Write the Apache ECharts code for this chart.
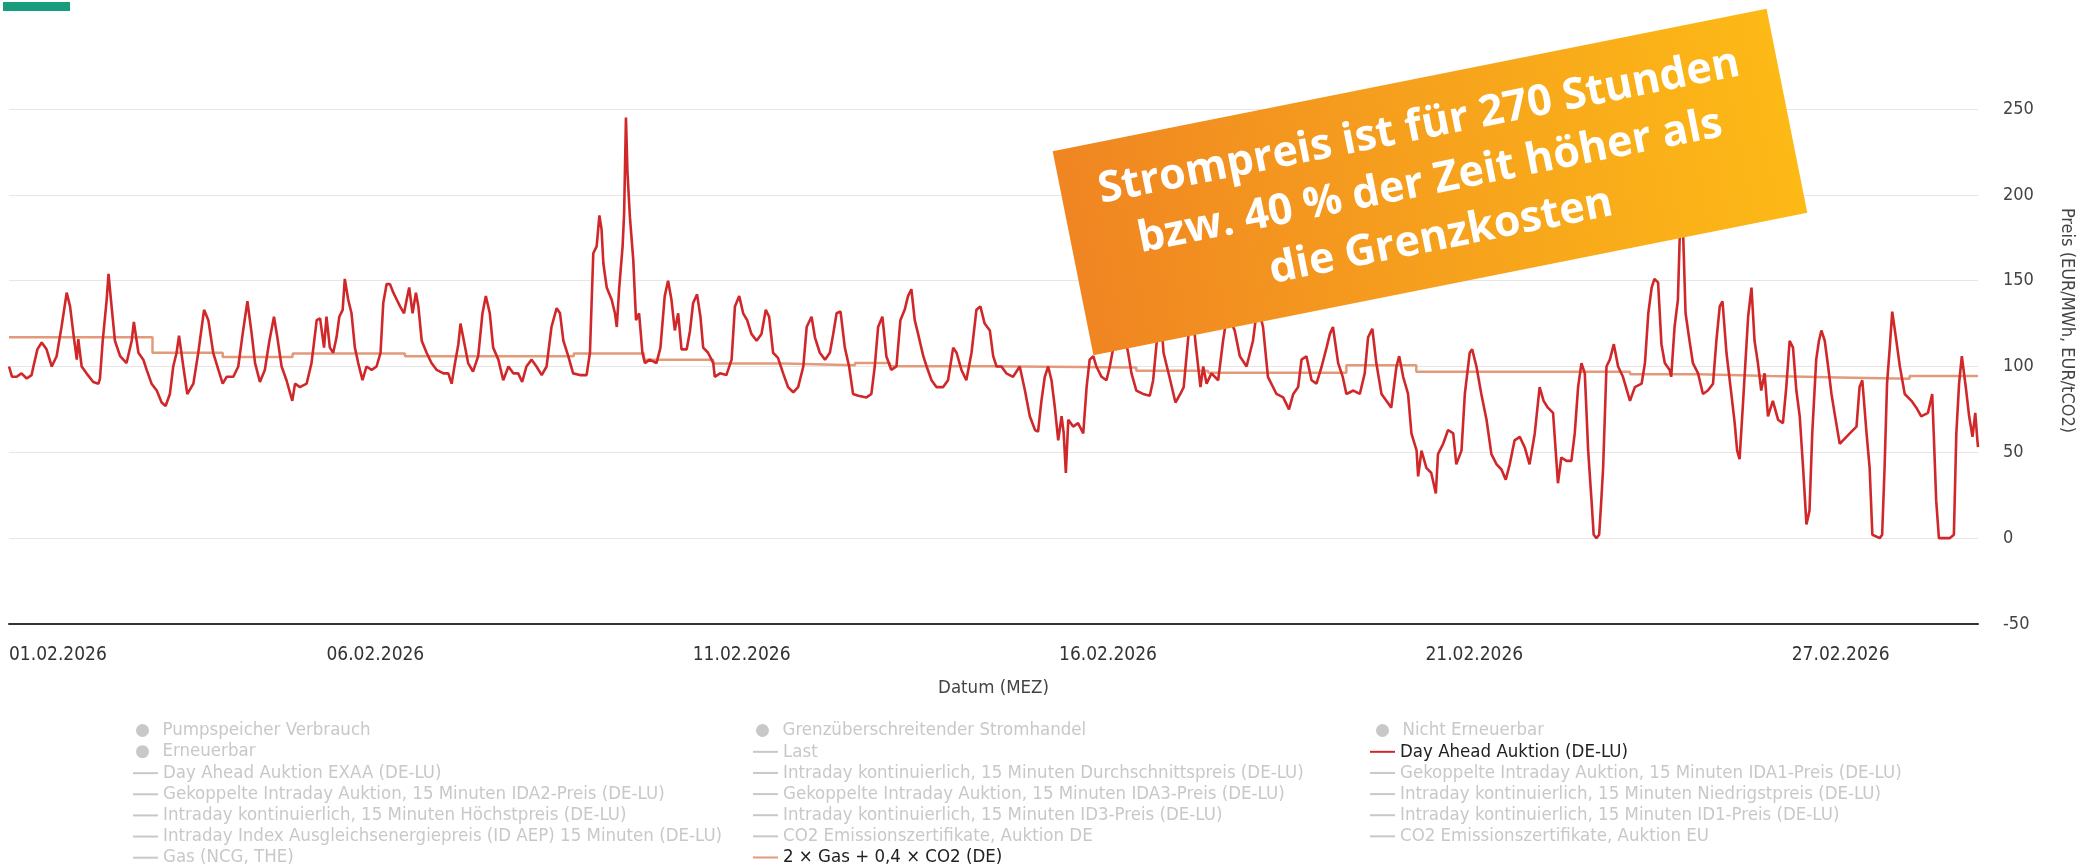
<!DOCTYPE html>
<html>
<head>
<meta charset="utf-8">
<script src="https://cdn.jsdelivr.net/npm/echarts@6/dist/echarts.min.js"></script>
<style>
  html, body { margin: 0; padding: 0; background: #fff; }
  #chart { width: 2091px; height: 866px; }
</style>
</head>
<body>
<div id="chart"></div>
<script>
// Day Ahead Auktion (DE-LU), Stunden ab 01.02.2026 00:00, EUR/MWh
const dayAheadHours = [
  0, 1, 2.5, 4.1, 5.8, 7.4, 8, 9.3, 10.7, 12.3, 14, 15.6, 17.2, 18.9, 20, 21.1, 22.2, 22.7, 23.8,
  25.4, 27.6, 29.3, 29.8, 30.7, 32, 32.6, 33.6, 34.7, 36.4, 38.5, 40.2, 40.9, 42.4, 44, 45.1, 46.7,
  48.4, 50, 51.3, 52.7, 53.8, 54.9, 55.7, 57.1, 58.4, 60.4, 62, 63.9, 65.3, 66.9, 68.6, 70, 71.3,
  73.5, 75.1, 76.7, 78.1, 79.5, 80.6, 82.2, 83.8, 85.3, 86.8, 87.9, 89.3, 90.9, 92.8, 93.7, 95.3,
  97.5, 99.1, 100.8, 101.9, 103.2, 104, 105.1, 106.2, 107.3, 108.2, 109.3, 110, 111.1, 112.2, 113.3,
  114.4, 115.8, 117.1, 118.8, 120.4, 121.7, 122.6, 123.7, 124.8, 125.9, 127, 128.1, 129.4, 130.5,
  131.1, 132.2, 133.3, 134.1, 135.2, 136.8, 138.4, 140.1, 142.3, 143.9, 145, 146.1, 147.2, 147.9,
  149, 150.4, 152, 153.7, 155.1, 156.2, 157.5, 158.6, 160.3, 161.9, 163.6, 165.2, 166.8, 168.1,
  169.5, 171.2, 172.8, 174.5, 176.1, 177.7, 179.4, 180.5, 181.6, 183.2, 184.8, 187, 189.2, 190.3,
  191.4, 192.5, 193.4, 194.1, 194.7, 195.8, 197.4, 198.5, 199.1, 199.9, 201, 201.5, 202.1, 202.6,
  203.4, 204.5, 205.4, 206.4, 207.5, 208.3, 209.9, 212.1, 213.4, 214.8, 215.9, 217, 218.1, 219.2,
  220.3, 222, 223.1, 224.1, 225.4, 226.5, 227.4, 229, 230.7, 231.2, 232.9, 235, 236.7, 237.8, 239.2,
  240.5, 241.8, 243.2, 244.9, 246.5, 247.9, 249, 250.3, 251.9, 253.6, 255.2, 256.9, 258.5, 260.2,
  261.3, 262.9, 264, 265.6, 267.3, 268.9, 270, 271.1, 272.4, 273.8, 275.2, 276.5, 278.2, 280.9,
  282.5, 283.6, 284.7, 286.1, 287.4, 289, 290.7, 292, 293.4, 294.5, 295.6, 296.7, 297.8, 299.5,
  300.6, 302.2, 303.8, 306, 307.6, 309.3, 310.4, 312, 313.6, 315.3, 316.9, 318.2, 319.6, 321.3,
  322.4, 323.5, 325.1, 326.7, 328.9, 331.1, 332.8, 334.4, 336.1, 337.1, 338.2, 339.3, 340.4, 341.5,
  342.6, 343.7, 344.8, 345.5, 346.2, 347, 348.6, 350.2, 351.9, 353, 354, 355.2, 356.2, 357.9, 359.5,
  360.6, 362.5, 364, 365.8, 366.6, 367.7, 369.3, 371.5, 373.7, 374.8, 375.9, 377, 378.2, 380.4,
  382.1, 383.7, 384.8, 386.4, 387.3, 388.6, 390.3, 391.2, 392.3, 393.9, 396.1, 397.7, 399, 400.3,
  401.5, 403.2, 405.4, 407.5, 409, 410.8, 412.4, 415.2, 417.4, 419.3, 420.7, 422.3, 423.4, 425,
  426.7, 428.3, 430, 431.6, 432.7, 433.7, 435.4, 436.9, 438.1, 440.4, 442.5, 444.1, 445.2, 446.6,
  447.9, 449.6, 451.2, 452.8, 454.5, 455.4, 456.7, 458.3, 459.4, 461.1, 461.6, 462.7, 464.3, 465.9,
  467.4, 468.1, 469.8, 471.4, 473.1, 474.1, 475.8, 476.9, 478.5, 479.3, 480.7, 482.3, 484, 485.6,
  487.3, 488.9, 490.3, 491.6, 493.2, 494.9, 496.5, 498.1, 499.8, 501.4, 502.7, 504.1, 505.8, 507.4,
  508.5, 510.2, 511.8, 512.9, 514, 515.1, 516.2, 517.3, 518.4, 519.1, 520, 520.9, 521.6, 522.2,
  523.3, 524.4, 525.7, 527.1, 528.7, 531, 532.6, 534.8, 535.9, 537, 538.1, 539, 540.2, 541.3, 542.4,
  544, 544.5, 545.6, 546.7, 547.3, 547.8, 548.4, 549.2, 550.5, 551.6, 553.3, 554.9, 556.5, 558.2,
  559.3, 560.4, 561.3, 562.6, 564.2, 565.3, 566.1, 566.9, 568, 569.7, 570.8, 571.8, 572.9, 574,
  575.1, 576.2, 577.8, 579.5, 581.1, 582.2, 583.3, 584.4, 585.5, 586.6, 587.7, 588.8, 589.8, 590.7,
  592, 592.9, 593.7, 594.8, 595.9, 597, 598, 599.7, 600.8, 603, 605.2, 606.2, 607.1, 608.4, 609.5,
  610.4, 612.8, 613.6, 614.4, 615.2, 616.1, 616.9, 618.1, 619.4, 621, 623.2, 624.8, 626.4, 628.6,
  630, 630.5, 631.3, 632.2, 635.7, 637.1, 637.9, 638.8, 639.7, 641, 642.1, 643.2, 644.1, 644.8, 645
];
const dayAheadPrices = [
  100, 94, 94, 96, 93, 95, 100, 110, 114, 110, 100, 106, 123, 143, 135, 119, 104, 116, 100,
  96, 91, 90, 93, 115, 139, 154, 135, 115, 106, 102, 115, 126, 108, 104, 98, 90,
  86, 79, 77, 84, 100, 108, 118, 100, 84, 90, 108, 133, 127, 108, 98, 90, 94,
  94, 100, 121, 138, 119, 102, 91, 98, 115, 129, 117, 100, 92, 80, 90, 88,
  90, 102, 127, 128, 111, 129, 111, 108, 117, 129, 133, 151, 139, 131, 111,
  102, 92, 100, 98, 100, 108, 137, 148, 148, 143, 139, 135, 131, 141,
  146, 131, 143, 135, 115, 108, 102, 98, 96, 96, 90, 102, 113, 125,
  115, 102, 97, 106, 131, 141, 131, 111, 104, 92, 100, 96, 96, 91,
  100, 104, 100, 95, 100, 123, 134, 131, 115, 106, 96, 95, 95, 108,
  166, 170, 188, 180, 160, 146, 139, 131, 123, 146, 170, 189, 245, 213,
  187, 162, 127, 131, 108, 102, 104, 102, 111, 141, 150, 139, 121, 131,
  110, 110, 121, 137, 142, 129, 111, 108, 102, 94, 96, 95, 104, 135, 141,
  131, 127, 119, 115, 119, 133, 129, 108, 105, 96, 88, 85, 88, 100,
  123, 129, 117, 108, 104, 108, 119, 131, 132, 111, 100, 84, 83, 82,
  84, 100, 123, 129, 106, 98, 100, 127, 133, 141, 145, 127, 119, 106,
  100, 92, 88, 88, 92, 111, 108, 98, 92, 108, 133, 135, 125, 121,
  106, 100, 100, 96, 94, 100, 86, 71, 63, 62, 80, 94, 100, 92,
  76, 57, 71, 61, 38, 69, 65, 67, 61, 88, 104, 106, 100, 94, 92,
  100, 118, 132, 115, 108, 96, 86, 84, 83, 92, 113, 138, 108, 92,
  79, 84, 88, 119, 142, 115, 88, 100, 90, 96, 92, 115, 130, 126,
  121, 106, 100, 115, 136, 123, 94, 84, 82, 75, 84, 88, 104, 106,
  92, 90, 100, 111, 119, 123, 102, 94, 84, 86, 84, 96, 117, 122,
  102, 84, 80, 76, 100, 106, 94, 84, 61, 51, 36, 51, 41, 38,
  26, 49, 55, 63, 61, 43, 51, 84, 108, 110, 100, 84, 69, 49,
  43, 40, 34, 43, 57, 59, 53, 43, 61, 88, 80, 76, 73, 32,
  47, 45, 45, 61, 88, 102, 96, 51, 22, 2, 0, 2, 22, 41,
  100, 104, 113, 100, 94, 80, 88, 90, 102, 131, 146, 151, 149, 113, 102,
  98, 94, 123, 139, 176, 195, 178, 131, 115, 102, 96, 84, 86, 90,
  115, 135, 138, 108, 84, 67, 51, 46, 78, 129, 146, 115, 102, 86,
  96, 71, 80, 69, 67, 88, 115, 111, 86, 71, 41, 8, 16, 61,
  104, 115, 121, 115, 100, 84, 73, 55, 57, 61, 65, 88, 92, 63, 41,
  2, 0, 2, 41, 90, 111, 132, 117, 100, 84, 80, 76, 71, 73,
  84, 61, 22, 0, 0, 2, 61, 90, 106, 88, 71, 59, 73, 57, 53
];

// 2 × Gas + 0,4 × CO2 (DE), Stufen
const grenzkostenHours = [0, 47, 70, 92.9, 129.7, 185, 208, 230.7, 254, 277.1, 288.6, 321, 369.3, 392.8, 438.1, 461, 531, 553.8, 576.8, 599.7, 622.6, 645];
const grenzkostenValues = [117, 108, 105.6, 107.6, 106, 107.6, 104, 101.8, 100.8, 102.1, 100.2, 99.4, 97.5, 96.3, 100.8, 96.9, 95.5, 94.4, 93.6, 92.8, 94.4, 94.4];

const xTickLabels = ['01.02.2026', '06.02.2026', '11.02.2026', '16.02.2026', '21.02.2026', '27.02.2026'];

const legendCol1 = ['Pumpspeicher Verbrauch', 'Erneuerbar', 'Day Ahead Auktion EXAA (DE-LU)', 'Gekoppelte Intraday Auktion, 15 Minuten IDA2-Preis (DE-LU)', 'Intraday kontinuierlich, 15 Minuten Höchstpreis (DE-LU)', 'Intraday Index Ausgleichsenergiepreis (ID AEP) 15 Minuten (DE-LU)', 'Gas (NCG, THE)'];
const legendCol2 = ['Grenzüberschreitender Stromhandel', 'Last', 'Intraday kontinuierlich, 15 Minuten Durchschnittspreis (DE-LU)', 'Gekoppelte Intraday Auktion, 15 Minuten IDA3-Preis (DE-LU)', 'Intraday kontinuierlich, 15 Minuten ID3-Preis (DE-LU)', 'CO2 Emissionszertifikate, Auktion DE', '2 × Gas + 0,4 × CO2 (DE)'];
const legendCol3 = ['Nicht Erneuerbar', 'Day Ahead Auktion (DE-LU)', 'Gekoppelte Intraday Auktion, 15 Minuten IDA1-Preis (DE-LU)', 'Intraday kontinuierlich, 15 Minuten Niedrigstpreis (DE-LU)', 'Intraday kontinuierlich, 15 Minuten ID1-Preis (DE-LU)', 'CO2 Emissionszertifikate, Auktion EU'];
const circleNames = ['Pumpspeicher Verbrauch', 'Erneuerbar', 'Grenzüberschreitender Stromhandel', 'Nicht Erneuerbar'];
const activeNames = ['Day Ahead Auktion (DE-LU)', '2 × Gas + 0,4 × CO2 (DE)'];

const calloutLines = ['Strompreis ist für 270 Stunden', 'bzw. 40 % der Zeit höher als', 'die Grenzkosten'];

const FONT = "'DejaVu Sans Condensed', 'Liberation Sans Narrow', 'DejaVu Sans', sans-serif";
const ROW0 = 730, ROW_STEP = 21.33;

const chart = echarts.init(document.getElementById('chart'), null, { renderer: 'canvas' });

const allNames = legendCol1.concat(legendCol2, legendCol3);
const selected = {};
allNames.forEach(n => { selected[n] = activeNames.indexOf(n) >= 0; });

// one legend block: circles or short lines, stacked from a given row
const legendBlock = (names, left, row, isCircle) => ({
  orient: 'vertical',
  left: left,
  top: ROW0 + row * ROW_STEP - 9,
  height: 400,
  padding: 0,
  itemWidth: isCircle ? 30 : 25,
  itemHeight: isCircle ? 13 : 2,
  itemGap: ROW_STEP - 19.2,
  icon: isCircle ? 'circle' : 'rect',
  inactiveColor: '#c8c8c8',
  selected: selected,
  textStyle: { fontFamily: FONT, fontSize: 18.5, lineHeight: 18, color: '#222' },
  data: names
});

const columnLegends = (names, circleLeft, lineLeft) => {
  const circles = names.filter(n => circleNames.indexOf(n) >= 0);
  const lines = names.filter(n => circleNames.indexOf(n) < 0);
  return [legendBlock(circles, circleLeft, 0, true), legendBlock(lines, lineLeft, circles.length, false)];
};

const series = [];
allNames.forEach(n => {
  if (n === 'Day Ahead Auktion (DE-LU)') {
    series.push({
      name: n, type: 'line', symbol: 'none', z: 3,
      data: dayAheadHours.map((h, i) => [h, dayAheadPrices[i]]),
      lineStyle: { color: '#d0282a', width: 2.6 },
      itemStyle: { color: '#d0282a' }
    });
  } else if (n === '2 × Gas + 0,4 × CO2 (DE)') {
    series.push({
      name: n, type: 'line', symbol: 'none', step: 'end', z: 2,
      data: grenzkostenHours.map((h, i) => [h, grenzkostenValues[i]]),
      lineStyle: { color: '#e29a7b', width: 2.5 },
      itemStyle: { color: '#e29a7b' }
    });
  } else {
    series.push({ name: n, type: 'line', symbol: 'none', data: [] });
  }
});

const option = {
  animation: false,
  backgroundColor: '#fff',
  grid: { left: 9, right: 113, top: 109, bottom: 242 },
  legend: [].concat(
    columnLegends(legendCol1, 136, 133),
    columnLegends(legendCol2, 756, 753),
    columnLegends(legendCol3, 1376, 1370)
  ),
  xAxis: {
    type: 'value',
    min: 0,
    max: 645,
    interval: 120,
    name: 'Datum (MEZ)',
    nameLocation: 'middle',
    nameGap: 55,
    nameTextStyle: { fontFamily: FONT, fontSize: 18.5, color: '#444' },
    axisLine: { onZero: false, lineStyle: { color: '#333', width: 2 } },
    axisTick: { show: false },
    splitLine: { show: false },
    axisLabel: {
      margin: 22,
      fontFamily: FONT,
      fontSize: 19,
      color: '#333',
      alignMinLabel: 'left',
      showMaxLabel: false,
      formatter: v => (v % 120 === 0 ? (xTickLabels[v / 120] || '') : '')
    }
  },
  yAxis: {
    type: 'value',
    position: 'right',
    min: -50,
    max: 250,
    interval: 50,
    name: 'Preis (EUR/MWh, EUR/tCO2)',
    nameLocation: 'middle',
    nameRotate: -90,
    nameGap: 80,
    nameTextStyle: { fontFamily: FONT, fontSize: 18, color: '#444', padding: [0, 92, 0, 0] },
    axisLine: { show: false },
    axisTick: { show: false },
    splitLine: { lineStyle: { color: '#e6e6e6', width: 1 } },
    axisLabel: { margin: 25, fontFamily: FONT, fontSize: 18, color: '#444' }
  },
  graphic: [
    { type: 'rect', left: 3, top: 2, shape: { width: 67, height: 9 }, style: { fill: '#179c7d' } },
    {
      type: 'group',
      x: 1430,
      y: 182,
      rotation: 11.3 * Math.PI / 180,
      children: [
        {
          type: 'rect',
          z: 100,
          shape: { x: -364, y: -104, width: 728, height: 208 },
          style: {
            fill: new echarts.graphic.LinearGradient(0, 0, 1, 0, [
              { offset: 0, color: '#f08522' },
              { offset: 0.5, color: '#f6a11d' },
              { offset: 1, color: '#fdb916' }
            ])
          }
        },
        {
          type: 'text',
          z: 101,
          x: 0,
          y: 0,
          style: {
            text: calloutLines.join('\n'),
            fill: '#fff',
            font: "bold 43px 'Open Sans', sans-serif",
            lineHeight: 56,
            align: 'center',
            verticalAlign: 'middle'
          }
        }
      ]
    }
  ],
  series: series
};

chart.setOption(option);
</script>
</body>
</html>
